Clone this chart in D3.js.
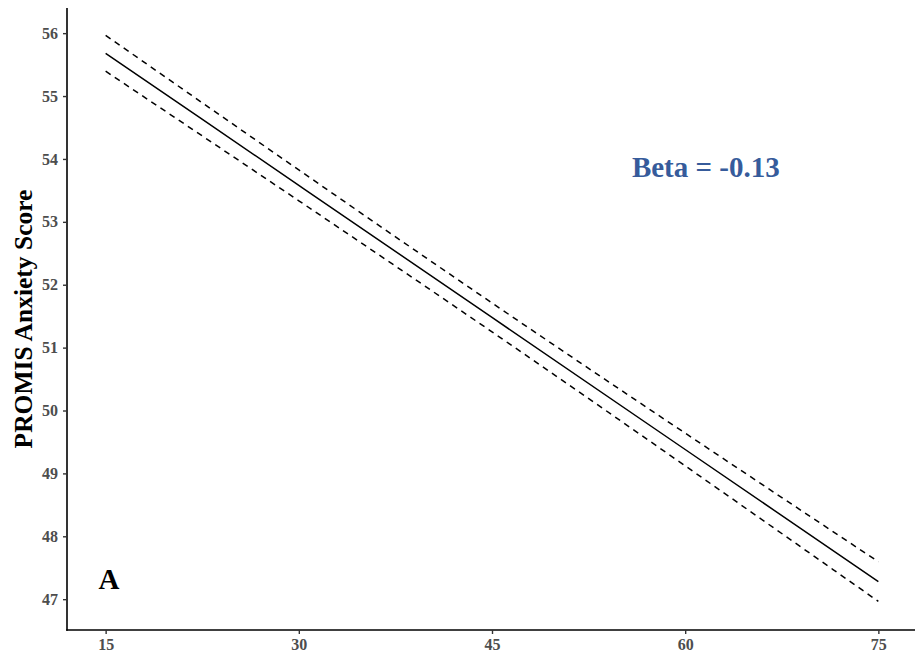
<!DOCTYPE html>
<html>
<head>
<meta charset="utf-8">
<script src="https://cdn.jsdelivr.net/npm/d3@7"></script>
<style>
  html, body { margin: 0; padding: 0; background: #fff; }
  svg { display: block; }
</style>
</head>
<body>
<svg id="chart" width="915" height="659"></svg>
<script>
// Data
const ages = [15, 30, 45, 60, 75];
const fitValues = [55.68, 53.58, 51.48, 49.38, 47.28];
const upperValues = [55.965, 53.825, 51.71, 49.64, 47.595];
const lowerValues = [55.395, 53.335, 51.25, 49.12, 46.965];
const xTicks = [15, 30, 45, 60, 75];
const yTicks = [47, 48, 49, 50, 51, 52, 53, 54, 55, 56];
const yTitle = "PROMIS Anxiety Score";
const betaLabel = "Beta = -0.13";
const panelLabel = "A";

const svg = d3.select("#chart");
const mLeft = 67, mRight = 917, mTop = 8, mBottom = 630;

const x = d3.scaleLinear().domain([12, 78]).range([mLeft, mRight]);
const y = d3.scaleLinear().domain([46.51, 56.40]).range([mBottom, mTop]);

const font = "'Liberation Serif', 'Times New Roman', serif";

const mk = vals => ages.map((a, i) => ({ x: a, y: vals[i] }));
const line = d3.line().x(d => x(d.x)).y(d => y(d.y)).curve(d3.curveNatural);

svg.append("path").datum(mk(upperValues)).attr("d", line)
  .attr("fill", "none").attr("stroke", "#000").attr("stroke-width", 1.5)
  .attr("stroke-dasharray", "6,5");
svg.append("path").datum(mk(lowerValues)).attr("d", line)
  .attr("fill", "none").attr("stroke", "#000").attr("stroke-width", 1.5)
  .attr("stroke-dasharray", "6,5");
svg.append("path").datum(mk(fitValues)).attr("d", line)
  .attr("fill", "none").attr("stroke", "#000").attr("stroke-width", 1.5);

// Axes
const xAxis = svg.append("g").attr("transform", `translate(0,${mBottom})`)
  .call(d3.axisBottom(x).tickValues(xTicks).tickSize(4).tickPadding(5).tickSizeOuter(0));
const yAxis = svg.append("g").attr("transform", `translate(${mLeft},0)`)
  .call(d3.axisLeft(y).tickValues(yTicks).tickSize(4).tickPadding(5).tickSizeOuter(0));

[xAxis, yAxis].forEach(g => {
  g.select(".domain").attr("stroke", "#000").attr("stroke-width", 1.6);
  g.selectAll(".tick line").attr("stroke", "#333").attr("stroke-width", 1.4);
  g.selectAll(".tick text").attr("fill", "#4D4D4D")
    .style("font-family", font).style("font-weight", "bold").style("font-size", "16px");
});
xAxis.select(".domain").attr("d", `M${mLeft - 0.8},0H${mRight}`);
yAxis.select(".domain").attr("d", `M0,${mTop}V${mBottom + 0.8}`);

// Y title
svg.append("text")
  .attr("transform", `translate(32,${(mTop + mBottom) / 2}) rotate(-90)`)
  .attr("text-anchor", "middle")
  .style("font-family", font).style("font-weight", "bold").style("font-size", "25.5px")
  .attr("fill", "#000").text(yTitle);

// Annotations
svg.append("text")
  .attr("x", x(61.6)).attr("y", y(53.71))
  .attr("text-anchor", "middle")
  .style("font-family", font).style("font-weight", "bold").style("font-size", "29px")
  .attr("fill", "#365B9B").text(betaLabel);

svg.append("text")
  .attr("x", x(15.26)).attr("y", y(47.16))
  .attr("text-anchor", "middle")
  .style("font-family", font).style("font-weight", "bold").style("font-size", "29px")
  .attr("fill", "#000").text(panelLabel);
</script>
</body>
</html>
